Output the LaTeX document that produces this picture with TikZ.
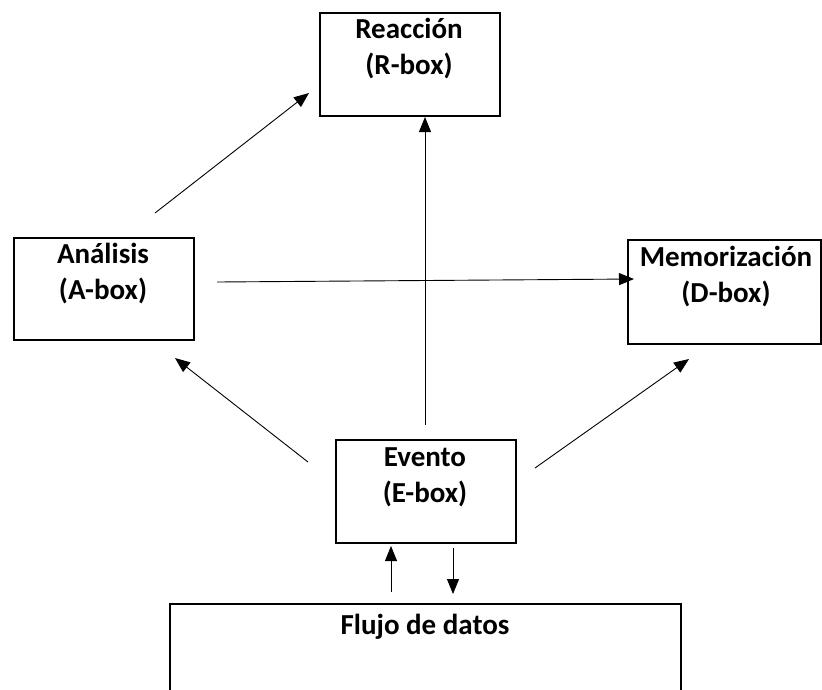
\documentclass[tikz,border=0pt]{standalone}
\usepackage{fontspec}
\setmainfont{Carlito}
\usetikzlibrary{arrows.meta}
\begin{document}
\begin{tikzpicture}[x=1pt,y=-1pt,
  boxst/.style={draw,line width=2pt,inner sep=0pt,anchor=north west},
  lbl/.style={font=\fontsize{29}{36}\selectfont\bfseries,align=center,inner sep=0pt},
  arr/.style={line width=0.9pt,-{Triangle[length=15pt,width=12pt]}}]
\useasboundingbox (0,0) rectangle (822,689);
% boxes
\node[boxst,minimum width=180pt,minimum height=103pt] (R) at (319,12) {};
\node[boxst,minimum width=180pt,minimum height=102pt] (A) at (13,237) {};
\node[boxst,minimum width=193pt,minimum height=104pt] (D) at (627,239) {};
\node[boxst,minimum width=180pt,minimum height=103pt] (E) at (335,439) {};
\draw[line width=2pt] (170,692) |- (681,604) -- (681,692);
% labels
\node[lbl] (Rt) at (409,49) {Reacción\\(R-box)};
\node[lbl] (At) at (103,274) {Análisis\\(A-box)};
\node[lbl] (Dt) at (726,277) {Memorización\\(D-box)};
\node[lbl] (Et) at (425,477) {Evento\\(E-box)};
\node[lbl] (Ft) at (425,627) {Flujo de datos};
% connector ends
\coordinate (a1) at (155,213); \coordinate (a2) at (309,93);
\coordinate (h1) at (217,282); \coordinate (h2) at (634,279);
\coordinate (v1) at (425,425); \coordinate (v2) at (425,117);
\coordinate (l1) at (308,462); \coordinate (l2) at (175,358);
\coordinate (r1) at (535,468); \coordinate (r2) at (689,359);
\coordinate (u1) at (391,592); \coordinate (u2) at (391,546);
\coordinate (d1) at (453,548); \coordinate (d2) at (453,594);
\draw[arr] (a1) -- (a2);
\draw[arr] (h1) -- (h2);
\draw[arr] (v1) -- (v2);
\draw[arr] (l1) -- (l2);
\draw[arr] (r1) -- (r2);
\draw[arr] (u1) -- (u2);
\draw[arr] (d1) -- (d2);
\end{tikzpicture}
\end{document}
